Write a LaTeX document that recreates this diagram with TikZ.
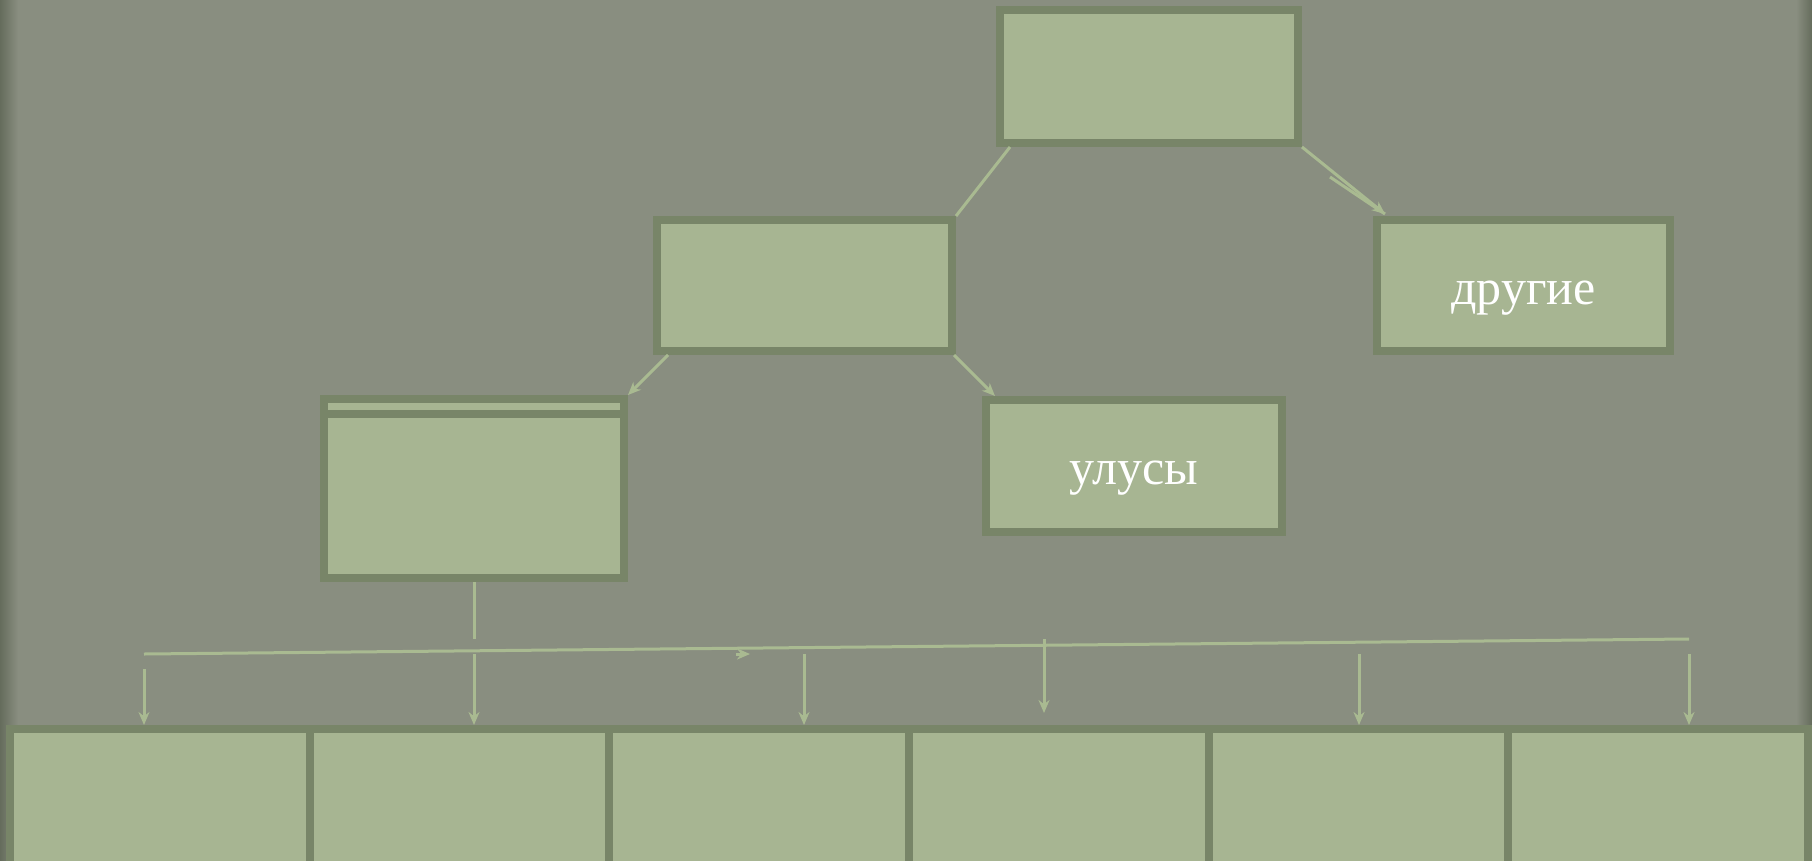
\documentclass[tikz,border=0pt]{standalone}
\usepackage{fontspec}
\setmainfont{Liberation Serif}
\usetikzlibrary{arrows.meta}
\definecolor{bgcol}{HTML}{898E80}
\definecolor{bgdark}{HTML}{656C5C}
\definecolor{boxfill}{HTML}{A7B592}
\definecolor{boxline}{HTML}{788568}
\definecolor{linkcol}{HTML}{A9BA91}
\begin{document}
\begin{tikzpicture}[x=1pt,y=-1pt,
  box/.style={draw=boxline,fill=boxfill,line width=8pt,inner sep=0pt,text=white,font=\fontsize{50}{60}\selectfont,text height=37pt,text depth=0pt},
  link/.style={draw=linkcol,line width=3pt},
  arr/.style={link,-{Stealth[length=13pt,width=11pt]}}]
\path[use as bounding box] (0,0) rectangle (1812,860);
\clip (0,0) rectangle (1812,860);
\fill[bgcol] (0,0) rectangle (1812,860);
\shade[left color=bgdark,right color=bgcol] (0,0) rectangle (18,860);
\shade[left color=bgcol,right color=bgdark] (1796,0) rectangle (1812,860);
\node[box,minimum width=298pt,minimum height=133pt] (chief) at (1149,76.5) {};
\node[box,minimum width=295pt,minimum height=131pt] (mid) at (804.5,285.5) {};
\node[box,minimum width=293pt,minimum height=131pt] (other) at (1523.5,285.5) {другие};
\node[box,minimum width=296pt,minimum height=132pt] (ulus) at (1134,466) {улусы};
\node[box,minimum width=300pt,minimum height=179pt] (left) at (474,488.5) {};
\draw[boxline,line width=8pt] ([yshift=-19pt]left.north west) -- ([yshift=-19pt]left.north east);
\foreach \i in {1,...,6}
  \node[box,minimum width=299.67pt,minimum height=171pt] (b\i) at ({10+299.67*(\i-0.5)},814.5) {};
\coordinate (tipO) at ([xshift=12pt,yshift=2pt]other.north west);
\coordinate (o1) at (1330,177);
\draw[link] ([xshift=14pt]chief.south west) -- (mid.north east);
\draw[arr] (chief.south east) -- (tipO);
\draw[link] (o1) -- (tipO);
\draw[arr] ([xshift=15pt]mid.south west) -- (left.north east);
\draw[arr] ([xshift=-2pt]mid.south east) -- ([xshift=13pt]ulus.north west);
\coordinate (busL) at (144,654);
\coordinate (busR) at (1689,639);
\coordinate (j0) at (474,639);
\draw[link] (left.south) -- (j0);
\draw[link] (busL) -- (busR);
\coordinate (m1) at (736,654);
\coordinate (m2) at (750,654);
\draw[arr] (m1) -- (m2);
\foreach \x/\y [count=\i] in {144/669,474/654,804/654,1044/639,1359/654,1689/654}
  \coordinate (s\i) at (\x,\y);
\coordinate (e4) at (1044,713);
\foreach \i in {1,2,3,5,6}
  \draw[arr] (s\i) -- (s\i |- b\i.north);
\draw[arr] (s4) -- (e4);
\end{tikzpicture}
\end{document}
